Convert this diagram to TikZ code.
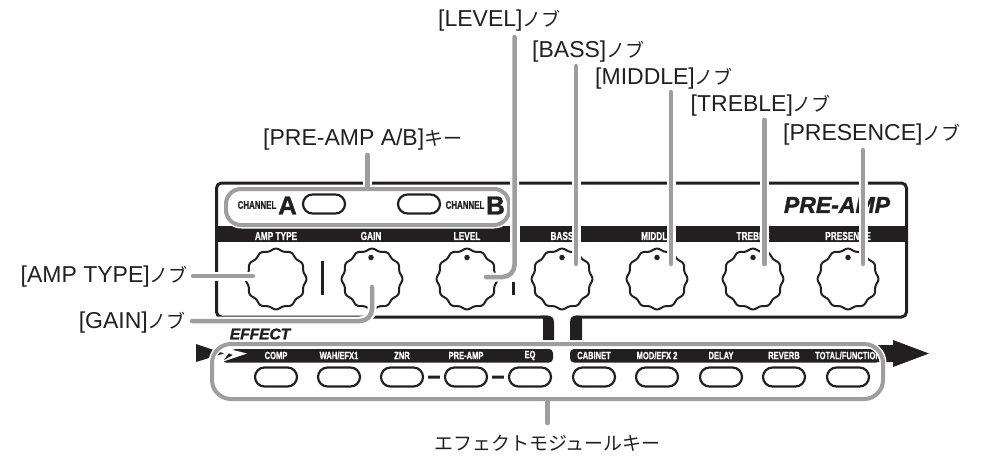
\documentclass[tikz,border=0pt]{standalone}
\usepackage{fontspec}
\usetikzlibrary{shapes.misc}
\setmainfont{Liberation Sans}[BoldFeatures={FakeBold=1.2},BoldItalicFeatures={FakeBold=1.6}]
\newfontfamily\jpfont{Noto Sans CJK JP}
\newfontfamily\condfont{Liberation Sans}[FakeStretch=0.72,BoldFeatures={FakeBold=0.8}]
\newcommand\jp[1]{{\jpfont\fontsize{19}{20}\selectfont #1}}
\definecolor{leadgray}{HTML}{9E9E9E}
\definecolor{inkblack}{HTML}{231F20}
\tikzset{
  callout/.style={font=\fontsize{23}{25}\selectfont,inner sep=0pt,text=inkblack},
  lead/.style={draw=leadgray,line width=4.5pt,line cap=round,preaction={draw=white,line width=9pt,line cap=butt}},
  keybtn/.style={rounded rectangle,draw=inkblack,line width=2.2pt,fill=white,minimum width=42pt,minimum height=19pt,inner sep=0pt},
  bandlabel/.style={font=\condfont\bfseries\fontsize{10.5}{11}\selectfont,text=white,inner sep=0pt},
  toplabel/.style={font=\condfont\bfseries\fontsize{11.5}{12}\selectfont,text=white,inner sep=0pt},
  chantext/.style={font=\condfont\bfseries\fontsize{11}{12}\selectfont,text=inkblack,inner sep=0pt},
  chanletter/.style={font=\bfseries\fontsize{26}{28}\selectfont,text=inkblack,inner sep=0pt},
  knobspot/.style={circle,minimum size=60pt,inner sep=0pt},
  gframe/.style={rectangle,draw=leadgray,line width=4pt,inner sep=0pt,preaction={draw=white,line width=7pt}},
}
\newcommand\knob[3]{%
  \node[knobspot] (#1) at (#2,#3) {};
  \draw[inkblack,line width=2pt,shift={(#2,#3)}] plot[domain=0:360,samples=145,smooth]
    ({(29.4+1*cos(12*\x))*cos(\x)},{(29.4+1*cos(12*\x))*sin(\x)}) -- cycle;}
\begin{document}
\begin{tikzpicture}[x=1pt,y=-1pt]
\useasboundingbox (0,0) rectangle (982,455);
% panel
\draw[inkblack,line width=3pt,rounded corners=5pt] (548,317) -- (216.5,317) -- (216.5,183) -- (906.5,183) -- (906.5,317) -- (576,317);
% control band
\fill[inkblack] (216.5,226) rectangle (512,242);
\fill[inkblack] (520,226) rectangle (906.5,242);
% stems
\fill[inkblack] (540,315.5) -- (546,315.5) .. controls (552,315.5) and (554,318) .. (554,323) -- (554,340) -- (543,340) -- (543,319) -- cycle;
\fill[inkblack] (580,315.5) -- (576,315.5) .. controls (572,315.5) and (570,318) .. (570,323) -- (570,340) -- (582,340) -- (582,319) -- cycle;
% signal band
\fill[inkblack] (196,344) -- (224,353.5) -- (196,362) -- cycle;
\fill[inkblack,rounded corners=4pt] (232,349) -- (553,349) -- (553,362.5) -- (222,362.5) -- cycle;
\fill[inkblack,rounded corners=4pt] (570,349) -- (880,349) -- (880,362.5) -- (570,362.5) -- cycle;
\fill[white] (220,362.5) -- (233,355) -- (224,351) -- (233,350) -- (247,353.5) -- cycle;
% right arrow
\fill[inkblack] (875,345) -- (893,345) -- (893,340) -- (929,353.5) -- (893,367) -- (893,362) -- (875,362) -- cycle;
% separators
\draw[inkblack,line width=3pt] (322.5,261) -- (322.5,295);
\draw[inkblack,line width=3pt] (513,282) -- (513,295);
% band labels
\node[toplabel] (tAmp) at (276,236) {AMP TYPE};
\node[toplabel] (tGain) at (371,236) {GAIN};
\node[toplabel] (tLevel) at (467,236) {LEVEL};
\node[toplabel] (tBass) at (562,236) {BASS};
\node[toplabel] (tMid) at (657,236) {MIDDLE};
\node[toplabel] (tTreb) at (753,236) {TREBLE};
\node[toplabel] (tPres) at (848,236) {PRESENCE};
% knobs
\knob{kAmp}{276}{279}
\knob{kGain}{372}{279}
\knob{kLevel}{467}{279}
\knob{kBass}{562}{279}
\knob{kMid}{657}{279}
\knob{kTreb}{753}{279}
\knob{kPres}{848}{279}
\foreach \n/\cx in {dGain/371,dLevel/467,dBass/562,dMid/657,dTreb/753,dPres/848}
  \node[circle,fill=inkblack,minimum size=5.5pt,inner sep=0pt] (\n) at (\cx,257.5) {};
% channel row
\node[chantext] (chA) at (257,205) {CHANNEL};
\node[chanletter] (lA) at (287.5,205.5) {A};
\node[keybtn] (btnA) at (324,204) {};
\node[keybtn] (btnB) at (419,204) {};
\node[chantext] (chB) at (465,205) {CHANNEL};
\node[chanletter] (lB) at (495.5,205.5) {B};
\node[font=\bfseries\itshape\fontsize{23}{25}\selectfont,text=inkblack,inner sep=0pt] (logo) at (837,205) {PRE-AMP};
% effect title
\node[font=\bfseries\itshape\fontsize{15.5}{17}\selectfont,text=inkblack,inner sep=0pt] (effect) at (260,334) {EFFECT};
% effect labels and keys
\node[bandlabel] (lComp) at (276,355.5) {COMP};
\node[bandlabel] (lWah) at (339,355.5) {WAH/EFX1};
\node[bandlabel] (lZnr) at (402,355.5) {ZNR};
\node[bandlabel] (lPre) at (466,355.5) {PRE-AMP};
\node[bandlabel] (lEq) at (530,355.5) {EQ};
\node[bandlabel] (lCab) at (594,355.5) {CABINET};
\node[bandlabel] (lMod) at (657,355.5) {MOD/EFX 2};
\node[bandlabel] (lDel) at (721,355.5) {DELAY};
\node[bandlabel] (lRev) at (784,355.5) {REVERB};
\node[bandlabel] (lTot) at (848,355.5) {TOTAL/FUNCTION};
\node[keybtn] (eComp) at (276,377) {};
\node[keybtn] (eWah) at (339,377) {};
\node[keybtn] (eZnr) at (402,377) {};
\node[keybtn] (ePre) at (466,377) {};
\node[keybtn] (eEq) at (530,377) {};
\node[keybtn] (eCab) at (594,377) {};
\node[keybtn] (eMod) at (657,377) {};
\node[keybtn] (eDel) at (721,377) {};
\node[keybtn] (eRev) at (784,377) {};
\node[keybtn] (eTot) at (848,377) {};
\draw[inkblack,line width=3pt,shorten <=4pt,shorten >=4pt] (eZnr) -- (ePre);
\draw[inkblack,line width=3pt,shorten <=4pt,shorten >=4pt] (ePre) -- (eEq);
% gray frames
\node[gframe,rounded corners=15pt,minimum width=283pt,minimum height=36pt] (fKeys) at (367.5,207) {};
\node[gframe,rounded corners=19pt,minimum width=671pt,minimum height=55pt] (fFx) at (547.5,371.5) {};
% callouts
\node[callout,anchor=west] (cPre) at (263,140) {[PRE-AMP A/B]\jp{キー}};
\node[callout,anchor=west] (cLevel) at (438,21) {[LEVEL]\jp{ノブ}};
\node[callout,anchor=west] (cBass) at (532,52) {[BASS]\jp{ノブ}};
\node[callout,anchor=west] (cMid) at (595,78.5) {[MIDDLE]\jp{ノブ}};
\node[callout,anchor=west] (cTreb) at (690.5,105.5) {[TREBLE]\jp{ノブ}};
\node[callout,anchor=west] (cPres) at (783,134.5) {[PRESENCE]\jp{ノブ}};
\node[callout,anchor=east] (cAmp) at (188,277) {[AMP TYPE]\jp{ノブ}};
\node[callout,anchor=east] (cGain) at (186,322.5) {[GAIN]\jp{ノブ}};
\node[callout] (cFx) at (547.5,443) {\jp{エフェクトモジュールキー}};
% leaders
\coordinate (aPre) at (367.5,155);
\coordinate (aLevelTop) at (514.5,37);
\coordinate (aLevelEnd) at (486,277);
\coordinate (aBassTop) at (576,66);
\coordinate (aBassEnd) at (576,264);
\coordinate (aMidTop) at (671,92);
\coordinate (aMidEnd) at (671,264);
\coordinate (aTrebTop) at (764.5,120);
\coordinate (aTrebEnd) at (764.5,264);
\coordinate (aPresTop) at (863,150);
\coordinate (aPresEnd) at (863,264);
\coordinate (aAmpA) at (193,276);
\coordinate (aAmpB) at (253,276);
\coordinate (aGainA) at (192,321);
\coordinate (aGainB) at (372,287);
\coordinate (aFx) at (547.5,423);
\draw[lead] (aPre) -- (fKeys.north);
\draw[lead,rounded corners=12pt] (aLevelEnd) -| (aLevelTop);
\draw[lead] (aBassTop) -- (aBassEnd);
\draw[lead] (aMidTop) -- (aMidEnd);
\draw[lead] (aTrebTop) -- (aTrebEnd);
\draw[lead] (aPresTop) -- (aPresEnd);
\draw[lead] (aAmpA) -- (aAmpB);
\draw[lead,rounded corners=12pt] (aGainA) -| (aGainB);
\draw[lead] (fFx.south) -- (aFx);
\end{tikzpicture}
\end{document}
